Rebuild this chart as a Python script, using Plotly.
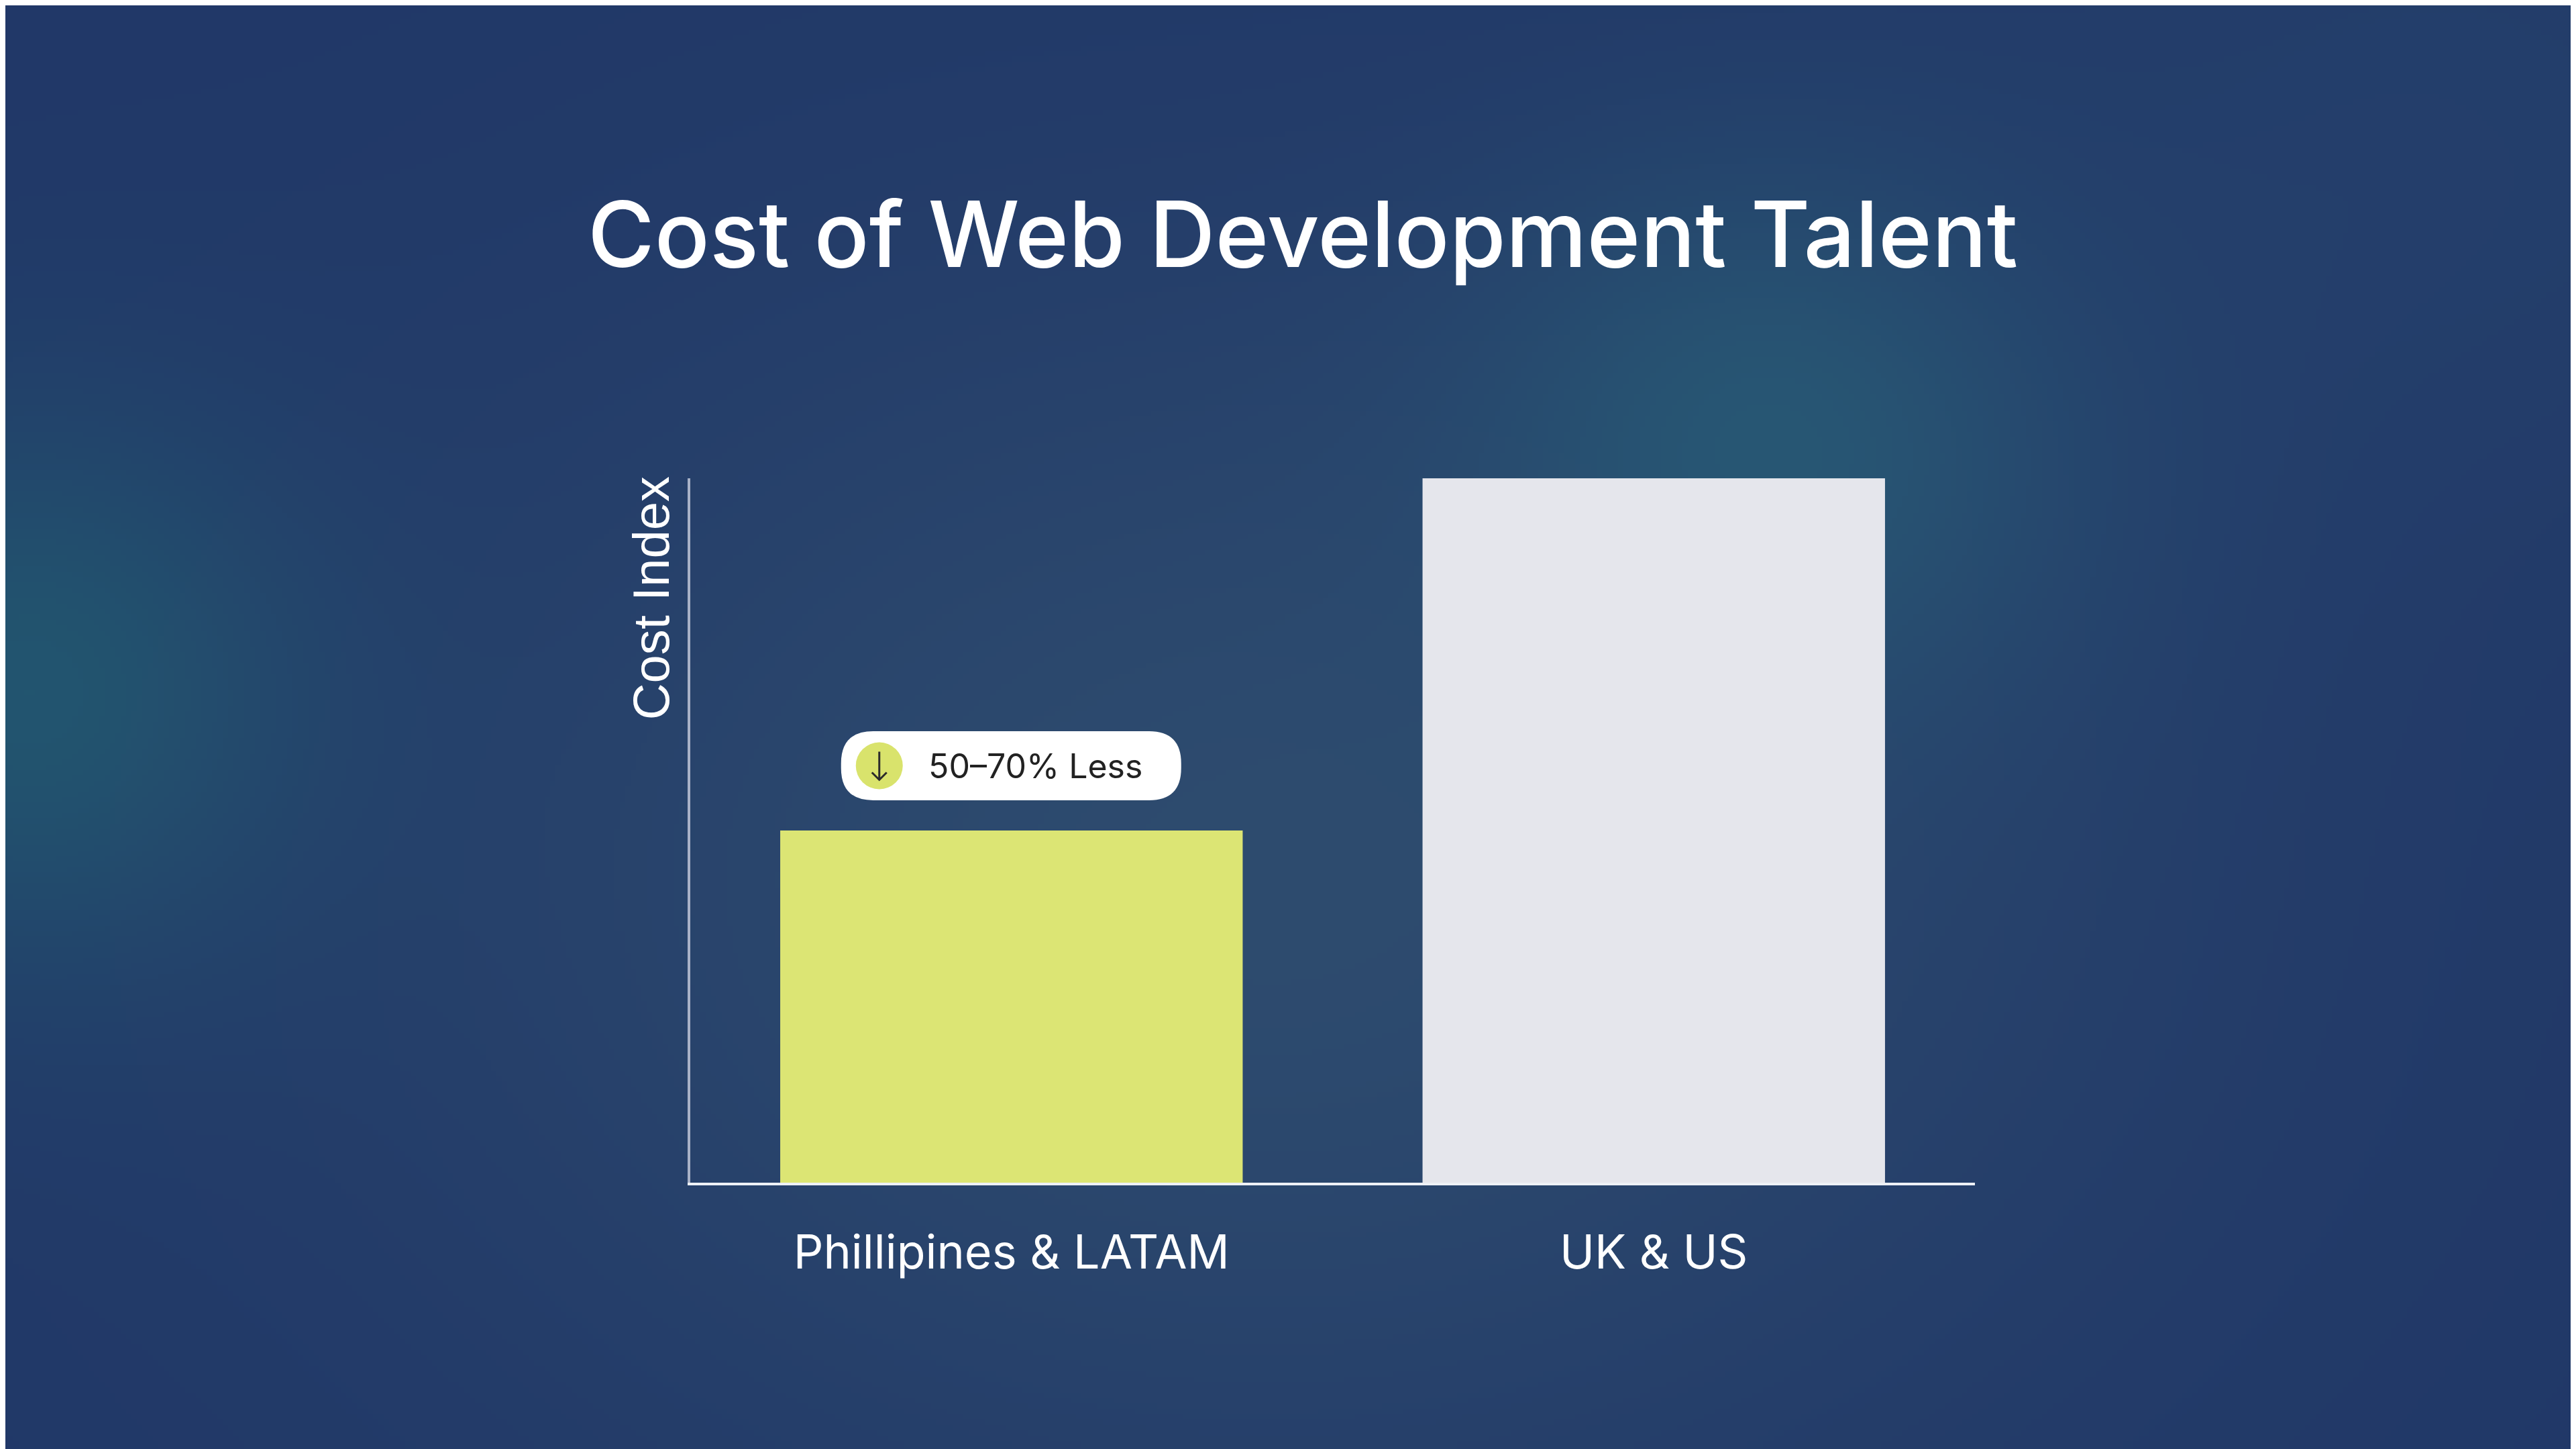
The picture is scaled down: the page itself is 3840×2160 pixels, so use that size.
import base64
import struct
import zlib

import numpy as np
import plotly.graph_objects as go

# Chart data
categories = ['Phillipines & LATAM', 'UK & US']
cost_index = [50, 100]
bar_colors = ['#dce574', '#e5e6ec']
badge_text = '50–70% Less'

# the page body adds an 8px margin, so the figure fills the rest of the window
W, H = 3832, 2152
# plot area in figure pixels
PL, PR, PT, PB = 1021, 2936, 705, 1755


def make_png(rgb):
    '''Encodes an (h, w, 3) uint8 array as a PNG data uri.'''
    h, w, _ = rgb.shape
    raw = b''.join(b'\x00' + rgb[i].tobytes() for i in range(h))

    def chunk(tag, data):
        c = struct.pack('>I', len(data)) + tag + data
        return c + struct.pack('>I', zlib.crc32(tag + data) & 0xffffffff)

    png = b'\x89PNG\r\n\x1a\n'
    png += chunk(b'IHDR', struct.pack('>IIBBBBB', w, h, 8, 2, 0, 0, 0))
    png += chunk(b'IDAT', zlib.compress(raw, 9))
    png += chunk(b'IEND', b'')
    return 'data:image/png;base64,' + base64.b64encode(png).decode()


def background():
    '''Navy background with soft teal glows.'''
    bw, bh = 479, 269
    sx = W / bw
    yy, xx = np.mgrid[0:bh, 0:bw].astype(float)
    xx *= sx
    yy *= sx
    img = np.zeros((bh, bw, 3))
    img[:] = (33, 56, 104)
    glows = [
        # cx, cy, sigma_x, sigma_y, amount, colour
        (1880, 1300, 900, 650, 0.85, (48, 79, 112)),
        (2640, 650, 320, 290, 0.9, (40, 90, 117)),
        (30, 1020, 300, 300, 0.9, (35, 88, 112)),
        (3650, 200, 550, 450, 0.4, (40, 72, 112)),
    ]
    for cx, cy, gx, gy, a, col in glows:
        w = a * np.exp(-((xx - cx) ** 2 / (2 * gx ** 2) + (yy - cy) ** 2 / (2 * gy ** 2)))
        img = img * (1 - w[..., None]) + np.array(col) * w[..., None]
    return make_png(np.clip(img, 0, 255).astype(np.uint8))


fig = go.Figure()
fig.add_bar(
    x=categories,
    y=cost_index,
    marker_color=bar_colors,
    marker_line_width=0,
    hoverinfo='skip',
)

# pixel -> data helpers for the badge
px_per_cat = (PR - PL) / len(categories)
px_per_unit = (PB - PT) / 100.0


def dx(px):
    return px / px_per_cat


def dy(px):
    return px / px_per_unit


# badge above the first bar
bx0, bx1 = -dx(254), dx(253)
by0 = cost_index[0] + dy(45)
by1 = by0 + dy(103)
r = 48
rx, ry = dx(r), dy(r)
path = (
    f'M {bx0 + rx},{by1} L {bx1 - rx},{by1} Q {bx1},{by1} {bx1},{by1 - ry} '
    f'L {bx1},{by0 + ry} Q {bx1},{by0} {bx1 - rx},{by0} '
    f'L {bx0 + rx},{by0} Q {bx0},{by0} {bx0},{by0 + ry} '
    f'L {bx0},{by1 - ry} Q {bx0},{by1} {bx0 + rx},{by1} Z'
)
fig.add_shape(type='path', path=path, xref='x', yref='y',
              fillcolor='#ffffff', line_width=0, layer='above')

cy = (by0 + by1) / 2
ccx = bx0 + dx(57)
fig.add_shape(type='circle', xref='x', yref='y',
              x0=ccx - dx(35), x1=ccx + dx(35), y0=cy - dy(35), y1=cy + dy(35),
              fillcolor='#d9e36c', line_width=0, layer='above')
# down arrow inside the circle
arrow = (
    f'M {ccx},{cy + dy(21)} L {ccx},{cy - dy(21)} '
    f'M {ccx - dx(11)},{cy - dy(10)} L {ccx},{cy - dy(21)} L {ccx + dx(11)},{cy - dy(10)}'
)
fig.add_shape(type='path', path=arrow, xref='x', yref='y',
              line=dict(color='#2b2b2b', width=3), layer='above')
fig.add_annotation(x=bx0 + dx(128), y=cy, xref='x', yref='y', text=badge_text,
                   showarrow=False, xanchor='left', yanchor='middle',
                   font=dict(family='Inter', size=50, color='#222222'))

# axis title placed at the top of the y axis
fig.add_annotation(x=(962 - PL) / (PR - PL), y=1.004, xref='paper', yref='paper',
                   text='Cost Index', textangle=-90, showarrow=False,
                   xanchor='center', yanchor='top',
                   font=dict(family='Liberation Sans', size=76, color='#ffffff'))

fig.add_layout_image(
    source=background(),
    xref='paper', yref='paper',
    x=-PL / (PR - PL), y=1 + PT / (PB - PT),
    sizex=W / (PR - PL), sizey=H / (PB - PT),
    xanchor='left', yanchor='top', sizing='stretch', layer='below',
)

fig.update_layout(
    width=W,
    height=H,
    margin=dict(l=PL, r=W - PR, t=PT, b=H - PB),
    paper_bgcolor='#21386a',
    plot_bgcolor='rgba(0,0,0,0)',
    bargap=0.28,
    showlegend=False,
    title=dict(
        text='Cost of Web Development Talent',
        x=1934 / W, xref='container', xanchor='center',
        y=1 - 342 / H, yref='container', yanchor='middle',
        font=dict(family='Inter', size=136, color='#ffffff', weight=500),
    ),
    xaxis=dict(
        showline=True, linecolor='#eef1f6', linewidth=4,
        showgrid=False, zeroline=False,
        ticks='outside', ticklen=40, tickcolor='rgba(0,0,0,0)',
        tickfont=dict(family='Inter', size=70, color='#ffffff'),
    ),
    yaxis=dict(
        range=[0, 100], showline=True, linecolor='#a9b2c7', linewidth=4,
        showgrid=False, zeroline=False, showticklabels=False, ticks='',
    ),
)

fig.write_html('out.html')
